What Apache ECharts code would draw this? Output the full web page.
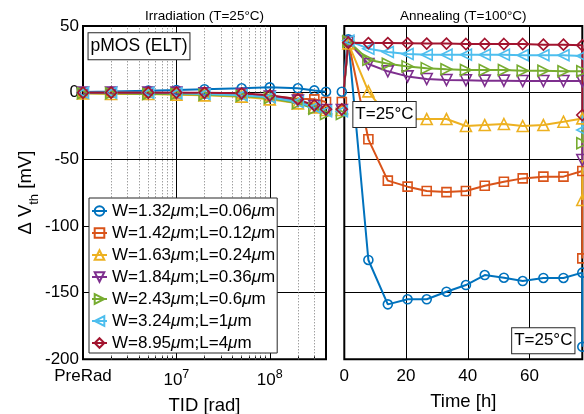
<!DOCTYPE html>
<html>
<head>
<meta charset="utf-8">
<script src="https://cdn.jsdelivr.net/npm/echarts@6/dist/echarts.min.js"></script>
<style>html,body{margin:0;padding:0;background:#fff}#c{width:584px;height:414px}</style>
</head>
<body>
<div id="c"></div>
<script>
// ---------- data ----------
const deviceNames = [
  'W=1.32μm;L=0.06μm',
  'W=1.42μm;L=0.12μm',
  'W=1.63μm;L=0.24μm',
  'W=1.84μm;L=0.36μm',
  'W=2.43μm;L=0.6μm',
  'W=3.24μm;L=1μm',
  'W=8.95μm;L=4μm'
];
// TID doses [rad]; the first one (1e6) is the "PreRad" position
const irrDose = [1e6, 2e6, 5e6, 1e7, 2e7, 5e7, 1e8, 2e8, 3e8, 4e8];
const irrW132 = [0.5, 0.8, 1.5, 2, 2.6, 3.3, 4, 3.3, 1.7, 0.7];
const irrW142 = [0, 0, 0, -0.5, -0.5, -1, -2.5, -4.5, -5, -7];
const irrW163 = [-0.5, -1, -1, -1.5, -2, -3, -5, -8, -11, -13];
const irrW184 = [0, 0, 0, 0, -0.5, -1, -3, -6, -10, -13];
const irrW243 = [-0.5, -0.5, -1, -1, -1.5, -2.5, -4, -8, -12, -16];
const irrW324 = [0, 0, 0, -0.5, -1, -2, -3.5, -7, -11, -14];
const irrW895 = [0, 0, 0, 0, 0, -0.5, -2, -5, -9.5, -12.5];

// Annealing time [h]; last point = measurement back at 25°C
const annTime = [-0.8, 1.3, 7.8, 14.1, 20.5, 26.7, 33.1, 39.4, 45.5, 51.7, 57.8, 64.5, 71, 77.1, 77.1];
const annW132 = [0.7, 40, -125.5, -158.8, -155, -155, -149.3, -144.3, -136.8, -138.8, -141.3, -139, -139, -135, -190.6];
const annW142 = [-7, 38.5, -35, -66, -70.5, -73.8, -74.6, -73.8, -69.8, -66.8, -64.3, -63, -63, -58.8, -124.3];
const annW163 = [-13, 37, 1, -18, -20, -19.8, -19.8, -25, -24.3, -23.5, -25, -24.3, -21.8, -19.3, -80.5];
const annW184 = [-13, 38, 21.5, 16, 12.2, 10.2, 9.5, 9.3, 9, 9, 8.7, 8.7, 8.7, 8.7, -50.5];
const annW243 = [-16, 38.5, 24.7, 21.7, 19.7, 18.4, 17.5, 17, 17, 17, 16.4, 16.4, 16, 16, -38];
const annW324 = [-14, 39, 33, 30.5, 29, 28.4, 28.5, 28.5, 28.5, 28.5, 28, 28, 28, 27.5, -28];
const annW895 = [-12.5, 37.5, 37.2, 37.2, 37, 36.8, 36.8, 36.5, 36.5, 36.5, 36.5, 36, 36, 35.5, -16.8];

const minorDoses = [2e6,3e6,4e6,5e6,6e6,7e6,8e6,9e6,2e7,3e7,4e7,5e7,6e7,7e7,8e7,9e7,2e8,3e8];
const yTicks = [-200, -150, -100, -50, 0, 50];

// ---------- styles ----------
const FONT = '"Liberation Sans", Arial, Helvetica, sans-serif';
const colors = ['#0072BD', '#D95319', '#EDB120', '#7E2F8E', '#77AC30', '#4DBEEE', '#A2142F'];
const symbols = [
  'circle',
  'rect',
  'path://M5,0 L10,9 L0,9 Z',
  'path://M0,0 L10,0 L5,9 Z',
  'path://M0,0 L9,5 L0,10 Z',
  'path://M9,0 L0,5 L9,10 Z',
  'diamond'
];
const symSizes = [9, 9, 11, 11, 11, 11, 11];

const irrSets = [irrW132, irrW142, irrW163, irrW184, irrW243, irrW324, irrW895];
const annSets = [annW132, annW142, annW163, annW184, annW243, annW324, annW895];

function mkSeries(name, i, xIdx, yIdx, xs, ys) {
  return {
    type: 'line', name: name,
    xAxisIndex: xIdx, yAxisIndex: yIdx,
    data: xs.map((x, k) => [x, ys[k]]),
    symbol: symbols[i], symbolSize: symSizes[i],
    showAllSymbol: true, clip: false,
    lineStyle: { color: colors[i], width: 2 },
    itemStyle: { color: 'rgba(255,255,255,0)', borderColor: colors[i], borderWidth: 1.6 },
    emphasis: { disabled: true },
    animation: false
  };
}

const series = [];
deviceNames.forEach((n, i) => series.push(mkSeries(n, i, 0, 0, irrDose, irrSets[i])));
deviceNames.forEach((n, i) => series.push(mkSeries(n, i, 2, 1, annTime, annSets[i])));
// minor log grid lines (dotted) on the irradiation panel
series[0].markLine = {
  silent: true, symbol: 'none', z: 1, animation: false,
  label: { show: false },
  lineStyle: { color: '#777', type: [1, 2], width: 1 },
  data: minorDoses.map(v => ({ xAxis: v }))
};

function isPow(v, p) { return Math.abs(Math.log10(v) - p) < 1e-6; }

const yAxisCommon = {
  type: 'value', min: -200, max: 50, interval: 50,
  axisLine: { show: false },
  axisTick: { show: true, inside: true, length: 5, lineStyle: { color: '#000', width: 1 } },
  splitLine: { show: true, lineStyle: { color: '#000', width: 1 } }
};

const option = {
  animation: false,
  backgroundColor: '#fff',
  textStyle: { fontFamily: FONT },
  title: [
    { text: 'Irradiation (T=25°C)', left: 204.5, top: 9, textAlign: 'center', padding: 0,
      textStyle: { fontSize: 13.5, fontWeight: 'normal', color: '#000', fontFamily: FONT } },
    { text: 'Annealing (T=100°C)', left: 463.3, top: 9, textAlign: 'center', padding: 0,
      textStyle: { fontSize: 13.5, fontWeight: 'normal', color: '#000', fontFamily: FONT } }
  ],
  grid: [
    { left: 83, top: 26, width: 243, height: 333.3, outerBoundsMode: 'none', containLabel: false,
      show: true, borderColor: '#000', borderWidth: 2, backgroundColor: 'transparent' },
    { left: 344.3, top: 26, width: 238, height: 333.3, outerBoundsMode: 'none', containLabel: false,
      show: true, borderColor: '#000', borderWidth: 2, backgroundColor: 'transparent' }
  ],
  xAxis: [
    { type: 'log', gridIndex: 0, min: 1e6, max: 4e8, logBase: 10,
      name: 'TID [rad]', nameLocation: 'middle', nameGap: 37,
      nameTextStyle: { fontSize: 18.5, color: '#000', fontFamily: FONT },
      axisLine: { show: false },
      axisTick: { show: true, inside: true, length: 6, lineStyle: { color: '#000' } },
      splitLine: { show: true, lineStyle: { color: '#000', width: 1 } },
      axisLabel: {
        margin: 9, color: '#000', fontSize: 17, fontFamily: FONT,
        formatter: function (v) {
          if (isPow(v, 6)) return 'PreRad';
          if (isPow(v, 7)) return '{b|10}{s|7}';
          if (isPow(v, 8)) return '{b|10}{s|8}';
          return '';
        },
        rich: {
          b: { fontSize: 17, fontFamily: FONT, color: '#000' },
          s: { fontSize: 12.5, fontFamily: FONT, color: '#000', padding: [0, 0, 12, 0] }
        }
      }
    },
    { type: 'log', gridIndex: 0, min: 1e6, max: 4e8, logBase: 10, position: 'bottom',
      axisLine: { show: false }, axisLabel: { show: false }, splitLine: { show: false },
      axisTick: { show: true, inside: true, length: 3, customValues: minorDoses, lineStyle: { color: '#000' } }
    },
    { type: 'value', gridIndex: 1, min: 0, max: 77.1, interval: 20,
      name: 'Time [h]', nameLocation: 'middle', nameGap: 33,
      nameTextStyle: { fontSize: 18.5, color: '#000', fontFamily: FONT },
      axisLine: { show: false },
      axisTick: { show: true, inside: true, length: 6, lineStyle: { color: '#000' } },
      splitLine: { show: true, lineStyle: { color: '#000', width: 1 } },
      axisLabel: {
        margin: 9, color: '#000', fontSize: 17, fontFamily: FONT,
        showMaxLabel: false,
        formatter: function (v) { return (Math.abs(v % 20) < 1e-6) ? String(v) : ''; }
      }
    }
  ],
  yAxis: [
    Object.assign({}, yAxisCommon, {
      gridIndex: 0,
      name: '{n|Δ V}{s|th}{n| [mV]}', nameLocation: 'middle', nameRotate: 90, nameGap: 41,
      nameTextStyle: {
        fontSize: 18.5, color: '#000', fontFamily: FONT,
        rich: {
          n: { fontSize: 18.5, fontFamily: FONT, color: '#000' },
          s: { fontSize: 13, fontFamily: FONT, color: '#000', padding: [18, 0, 0, 0] }
        }
      },
      axisLabel: { show: true, margin: 4, color: '#000', fontSize: 17, fontFamily: FONT,
        customValues: yTicks }
    }),
    Object.assign({}, yAxisCommon, { gridIndex: 1, axisLabel: { show: false } })
  ],
  legend: {
    orient: 'vertical', left: 89, top: 198, z: 10,
    data: deviceNames,
    itemWidth: 15, itemHeight: 12, itemGap: 2,
    padding: [3, 2, 0, 2],
    backgroundColor: '#fff', borderColor: '#262626', borderWidth: 1, borderRadius: 0,
    selectedMode: false,
    textStyle: {
      fontSize: 17, fontFamily: FONT, color: '#000', lineHeight: 20,
      rich: { i: { fontStyle: 'italic', fontSize: 17, fontFamily: FONT, color: '#000', lineHeight: 20 } }
    },
    formatter: function (name) { return name.replace(/μ/g, '{i|μ}'); }
  },
  graphic: [
    { type: 'text', x: 139, y: 46.2, z: 100,
      style: { text: 'pMOS (ELT)', fontSize: 17.5, fontFamily: FONT, fill: '#000',
        align: 'center', verticalAlign: 'middle', lineHeight: 18,
        backgroundColor: '#fff', borderColor: '#262626', borderWidth: 1, padding: [4, 2, 4, 2] } },
    { type: 'text', x: 384.5, y: 114.6, z: 100,
      style: { text: 'T=25°C', fontSize: 17, fontFamily: FONT, fill: '#000',
        align: 'center', verticalAlign: 'middle', lineHeight: 18,
        backgroundColor: '#fff', borderColor: '#262626', borderWidth: 1, padding: [4, 2, 3, 2] } },
    { type: 'text', x: 543.3, y: 340.8, z: 100,
      style: { text: 'T=25°C', fontSize: 17, fontFamily: FONT, fill: '#000',
        align: 'center', verticalAlign: 'middle', lineHeight: 18,
        backgroundColor: '#fff', borderColor: '#262626', borderWidth: 1, padding: [4, 2, 3, 2] } }
  ],
  series: series
};

const chart = echarts.init(document.getElementById('c'), null, { renderer: 'canvas' });
chart.setOption(option);
</script>
</body>
</html>
